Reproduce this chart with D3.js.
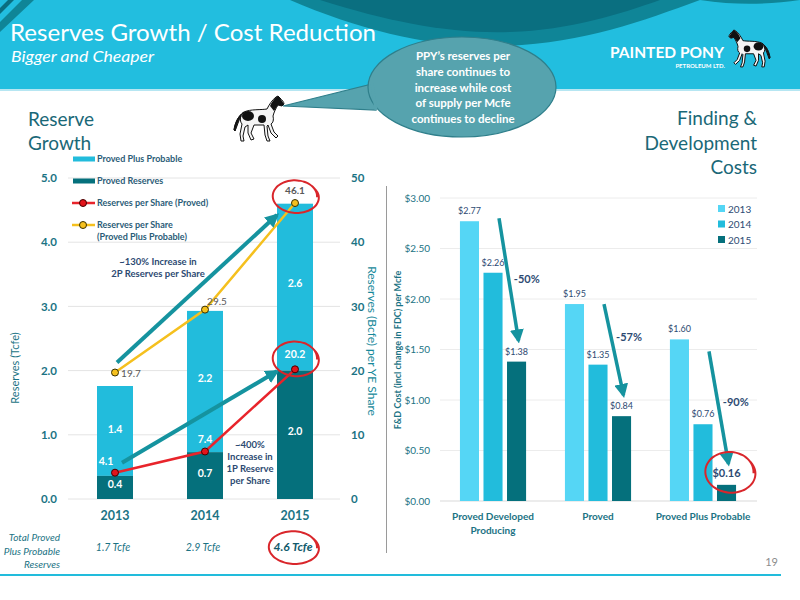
<!DOCTYPE html>
<html>
<head>
<meta charset="utf-8">
<script src="https://cdn.jsdelivr.net/npm/d3@7"></script>
<style>
  html, body { margin: 0; padding: 0; background: #fff; }
  svg { display: block; font-family: Lato, "Open Sans", sans-serif; }
</style>
</head>
<body>
<div id="chart"></div>
<script>
// ---- data ----
const years = ["2013", "2014", "2015"];
const provedRes = [0.36, 0.73, 2.0];          // Tcfe
const probableRes = [1.4, 2.2, 2.6];          // Tcfe on top of proved
const perShareProved = [4.1, 7.4, 20.2];      // Bcfe per YE share
const perShare2P = [19.7, 29.5, 46.1];
const totalLabels = ["1.7 Tcfe", "2.9 Tcfe", "4.6 Tcfe"];
const leftTicks = [0, 1, 2, 3, 4, 5];
const rightTicks = [0, 10, 20, 30, 40, 50];

const fdCategories = ["Proved Developed Producing", "Proved", "Proved Plus Probable"];
const fdYears = ["2013", "2014", "2015"];
const fdCost2013 = [2.77, 1.95, 1.60];
const fdCost2014 = [2.26, 1.35, 0.76];
const fdCost2015 = [1.38, 0.84, 0.16];
const fdChange = ["-50%", "-57%", "-90%"];
const fdTicks = [0, 0.5, 1, 1.5, 2, 2.5, 3];

const width = 800, height = 600;
const cyan = "#22bcdc", dark = "#05707c", light = "#55d6f5";
const teal = "#15939f", navy = "#2d4a72", axisCol = "#1b7384", red = "#d9262b";

const svg = d3.select("#chart").append("svg")
  .attr("width", width)
  .attr("height", height);

const defs = svg.append("defs");
defs.append("marker")
  .attr("id", "head")
  .attr("markerUnits", "userSpaceOnUse")
  .attr("viewBox", "0 0 10 10")
  .attr("refX", 8).attr("refY", 5)
  .attr("markerWidth", 14).attr("markerHeight", 14)
  .attr("orient", "auto")
  .append("path").attr("d", "M0,0 L10,5 L0,10 Z").attr("fill", teal);

// ---- header banner ----
svg.append("rect").attr("x", 0).attr("y", 0).attr("width", width).attr("height", 89).attr("fill", "#22bedf");
svg.append("path")
  .attr("d", "M290,0 C360,30 430,48 500,46 C580,44 640,22 700,0 Z")
  .attr("fill", "#0f8597");
svg.append("path")
  .attr("d", "M320,0 C390,22 450,34 510,32 C570,30 620,14 660,0 Z")
  .attr("fill", "#0a6f80");
svg.append("path")
  .attr("d", "M700,0 C740,6 770,4 800,0 Z")
  .attr("fill", "#0f8597");
svg.append("path").attr("d", "M0,22 L22,0 L34,0 L0,32 Z").attr("fill", "#0f8597");
svg.append("path").attr("d", "M0,8 L8,0 L14,0 L0,14 Z").attr("fill", "#0a6f80");
svg.append("rect").attr("x", 0).attr("y", 89).attr("width", width).attr("height", 2).attr("fill", "#b6e6f2");

svg.append("text").attr("x", 10).attr("y", 41)
  .attr("fill", "#fff").style("font-size", "24px")
  .attr("textLength", 366).attr("lengthAdjust", "spacingAndGlyphs")
  .text("Reserves Growth / Cost Reduction");
svg.append("text").attr("x", 11).attr("y", 62)
  .attr("fill", "#fff").style("font-size", "16px").style("font-style", "italic")
  .attr("textLength", 143).attr("lengthAdjust", "spacingAndGlyphs")
  .text("Bigger and Cheaper");

// logo
svg.append("text").attr("x", 610).attr("y", 58)
  .attr("fill", "#fff").style("font-size", "15px").style("font-weight", "bold")
  .attr("textLength", 114).attr("lengthAdjust", "spacingAndGlyphs")
  .text("PAINTED PONY");
svg.append("text").attr("x", 725).attr("y", 68).attr("text-anchor", "end")
  .attr("fill", "#fff").style("font-size", "6px").style("font-weight", "bold")
  .text("PETROLEUM LTD.");

// simple pinto pony, facing right in a 50x46 box
const horsePath = "M10,16 C16,13 28,14 33,13 C35,9 38,4 42,1 L44,0 L46,2 C48,4 50,6 50,8 L48,10 L44,9 " +
  "C42,12 40,16 39,20 C40,24 39,27 37,28 L40,36 L44,40 L42,42 L37,37 L34,29 L33,30 L34,40 L36,45 L33,45 L31,39 L30,29 " +
  "L20,29 L17,37 L20,43 L17,44 L14,37 L14,29 L11,31 L9,40 L10,45 L7,45 L6,38 L8,28 C6,26 6,22 7,20 " +
  "C5,24 3,30 1,35 L0,34 C1,27 4,20 10,16 Z";
function horse(tx, ty, s, flip) {
  const g = svg.append("g")
    .attr("transform", `translate(${tx},${ty}) scale(${flip ? -s : s},${s})`);
  g.append("path").attr("d", horsePath).attr("fill", "#f4f4f4").attr("stroke", "#111").attr("stroke-width", 1 / s);
  g.append("path").attr("d", "M36,10 C38,5 42,1 44,0 L46,2 L50,8 L48,10 L44,9 L40,15 Z").attr("fill", "#111");
  g.append("ellipse").attr("cx", 14).attr("cy", 20).attr("rx", 6).attr("ry", 5).attr("fill", "#111");
  g.append("ellipse").attr("cx", 28).attr("cy", 23).attr("rx", 4).attr("ry", 4).attr("fill", "#111");
  g.append("path").attr("d", "M10,16 C5,21 3,28 1,35 L0,34 C1,27 4,20 10,16 Z").attr("fill", "#111").attr("stroke", "#111");
}
horse(770, 30, 0.82, true);
horse(234, 96, 1.0, false);

// speech bubble
svg.append("path")
  .attr("d", "M283,106 L372,84 L376,110 Z")
  .attr("fill", "#56a3ae").attr("stroke", "#2f7f8b").attr("stroke-width", 1.2);
svg.append("ellipse").attr("cx", 462).attr("cy", 87).attr("rx", 94).attr("ry", 50)
  .attr("fill", "#56a3ae").attr("stroke", "#2f7f8b").attr("stroke-width", 1.2);
svg.append("path").attr("d", "M372,84 L376,110").attr("stroke", "#56a3ae").attr("stroke-width", 3);
const bubbleLines = ["PPY\u2019s reserves per", "share continues to", "increase while cost", "of supply per Mcfe", "continues to decline"];
svg.append("g").selectAll("text").data(bubbleLines).join("text")
  .attr("x", 463).attr("y", (d, i) => 60 + i * 15.8)
  .attr("text-anchor", "middle").attr("fill", "#fff")
  .style("font-size", "11.5px").style("font-weight", "bold")
  .text(d => d);

// section titles
svg.append("g").selectAll("text").data(["Reserve", "Growth"]).join("text")
  .attr("x", 28).attr("y", (d, i) => 126 + i * 24)
  .attr("fill", "#1a6877").style("font-size", "19px").text(d => d);
svg.append("g").selectAll("text").data(["Finding &", "Development", "Costs"]).join("text")
  .attr("x", 757).attr("y", (d, i) => 125 + i * 24.5).attr("text-anchor", "end")
  .attr("fill", "#1a6877").style("font-size", "19px").text(d => d);

// ---- left chart: reserves ----
const xL = d3.scaleBand().domain(years).range([70, 340]).paddingInner(0.6).paddingOuter(0.3);
const yL = d3.scaleLinear().domain([0, 5]).range([499, 178]);
const yR = d3.scaleLinear().domain([0, 50]).range([499, 178]);
const cx = i => xL(years[i]) + xL.bandwidth() / 2;

svg.append("g").selectAll("line").data(leftTicks).join("line")
  .attr("x1", 68).attr("x2", 340).attr("y1", d => yL(d)).attr("y2", d => yL(d))
  .attr("stroke", "#e4e4e4").attr("stroke-width", 1);

svg.append("g")
  .attr("transform", "translate(60,0)")
  .call(d3.axisLeft(yL).tickValues(leftTicks).tickFormat(d3.format(".1f")).tickSize(0))
  .call(g => g.select(".domain").remove())
  .call(g => g.selectAll("text").attr("fill", axisCol).style("font-size", "11.5px").style("font-weight", "bold").style("font-family", "Lato"));

svg.append("g")
  .attr("transform", "translate(348,0)")
  .call(d3.axisRight(yR).tickValues(rightTicks).tickSize(0))
  .call(g => g.select(".domain").remove())
  .call(g => g.selectAll("text").attr("fill", axisCol).style("font-size", "11.5px").style("font-weight", "bold").style("font-family", "Lato"));

svg.append("g")
  .attr("transform", `translate(0,${yL(0)})`)
  .call(d3.axisBottom(xL).tickSize(0).tickPadding(12))
  .call(g => g.select(".domain").remove())
  .call(g => g.selectAll("text").attr("fill", axisCol).style("font-size", "12.5px").style("font-weight", "bold").style("font-family", "Lato"));

svg.append("text").attr("transform", "translate(19,368) rotate(-90)")
  .attr("text-anchor", "middle").attr("fill", axisCol).style("font-size", "11px")
  .text("Reserves (Tcfe)");
svg.append("text").attr("transform", "translate(368,341) rotate(90)")
  .attr("text-anchor", "middle").attr("fill", "#16899a").style("font-size", "12px")
  .text("Reserves (Bcfe) per YE Share");

// stacked bars
svg.append("g").selectAll("rect").data(years).join("rect")
  .attr("x", d => xL(d)).attr("width", xL.bandwidth())
  .attr("y", (d, i) => yL(provedRes[i] + probableRes[i]))
  .attr("height", (d, i) => yL(provedRes[i]) - yL(provedRes[i] + probableRes[i]))
  .attr("fill", cyan);
svg.append("g").selectAll("rect").data(years).join("rect")
  .attr("x", d => xL(d)).attr("width", xL.bandwidth())
  .attr("y", (d, i) => yL(provedRes[i]))
  .attr("height", (d, i) => yL(0) - yL(provedRes[i]))
  .attr("fill", dark);

// bar labels
const provedLabelY = [488, 477, 435];
const probLabelY = [433, 382, 287];
svg.append("g").selectAll("text").data(provedRes).join("text")
  .attr("x", (d, i) => cx(i)).attr("y", (d, i) => provedLabelY[i])
  .attr("text-anchor", "middle").attr("fill", "#fff")
  .style("font-size", "10.5px").style("font-weight", "bold")
  .text(d => d.toFixed(1));
svg.append("g").selectAll("text").data(probableRes).join("text")
  .attr("x", (d, i) => cx(i)).attr("y", (d, i) => probLabelY[i])
  .attr("text-anchor", "middle").attr("fill", "#fff")
  .style("font-size", "10.5px").style("font-weight", "bold")
  .text(d => d.toFixed(1));

// per-share lines
const lineR = d3.line().x((d, i) => cx(i)).y(d => yR(d));
svg.append("path").datum(perShare2P).attr("d", lineR)
  .attr("fill", "none").attr("stroke", "#f5c01e").attr("stroke-width", 2.5);
svg.append("path").datum(perShareProved).attr("d", lineR)
  .attr("fill", "none").attr("stroke", "#e8242b").attr("stroke-width", 2.5);
svg.append("g").selectAll("circle").data(perShare2P).join("circle")
  .attr("cx", (d, i) => cx(i)).attr("cy", d => yR(d)).attr("r", 3.5)
  .attr("fill", "#f5c01e").attr("stroke", "#3a3000").attr("stroke-width", 1);
svg.append("g").selectAll("circle").data(perShareProved).join("circle")
  .attr("cx", (d, i) => cx(i)).attr("cy", d => yR(d)).attr("r", 3.5)
  .attr("fill", "#e3141b").attr("stroke", "#400").attr("stroke-width", 1);

// line labels
const p2Offsets = [[16, 4], [12, -5], [0, -9]];
svg.append("g").selectAll("text").data(perShare2P).join("text")
  .attr("x", (d, i) => cx(i) + p2Offsets[i][0]).attr("y", (d, i) => yR(d) + p2Offsets[i][1])
  .attr("text-anchor", "middle").attr("fill", "#595959")
  .style("font-size", "10px").style("font-weight", (d, i) => i === 2 ? "bold" : "normal")
  .text(d => d.toFixed(1));
const p1Offsets = [[-9, -8], [0, -8], [0, -11]];
svg.append("g").selectAll("text").data(perShareProved).join("text")
  .attr("x", (d, i) => cx(i) + p1Offsets[i][0]).attr("y", (d, i) => yR(d) + p1Offsets[i][1])
  .attr("text-anchor", "middle").attr("fill", "#fff")
  .style("font-size", "10.5px").style("font-weight", "bold")
  .text(d => d.toFixed(1));

// increase arrows
svg.append("line")
  .attr("x1", cx(0) + 2).attr("y1", yR(perShare2P[0]) - 10)
  .attr("x2", cx(2) - 18).attr("y2", yR(perShare2P[2]) + 12)
  .attr("stroke", teal).attr("stroke-width", 4).attr("marker-end", "url(#head)");
svg.append("line")
  .attr("x1", cx(0) + 7).attr("y1", yR(perShareProved[0]) - 10)
  .attr("x2", cx(2) - 18).attr("y2", yR(perShareProved[2]) + 2)
  .attr("stroke", teal).attr("stroke-width", 4).attr("marker-end", "url(#head)");

svg.append("g").selectAll("text").data(["~130% Increase in", "2P Reserves per Share"]).join("text")
  .attr("x", 158).attr("y", (d, i) => 265 + i * 12)
  .attr("text-anchor", "middle").attr("fill", navy)
  .style("font-size", "9.5px").style("font-weight", "bold").text(d => d);
svg.append("g").selectAll("text").data(["~400%", "Increase in", "1P Reserve", "per Share"]).join("text")
  .attr("x", 250).attr("y", (d, i) => 448 + i * 12)
  .attr("text-anchor", "middle").attr("fill", navy)
  .style("font-size", "9.5px").style("font-weight", "bold").text(d => d);

// legend
const legend = svg.append("g").style("font-size", "9px").style("font-weight", "bold");
legend.append("rect").attr("x", 73).attr("y", 156.5).attr("width", 22).attr("height", 5).attr("fill", cyan);
legend.append("rect").attr("x", 73).attr("y", 178.5).attr("width", 22).attr("height", 5).attr("fill", dark);
legend.append("line").attr("x1", 72).attr("x2", 95).attr("y1", 203).attr("y2", 203).attr("stroke", "#e8242b").attr("stroke-width", 2.5);
legend.append("circle").attr("cx", 83).attr("cy", 203).attr("r", 3.5).attr("fill", "#e3141b").attr("stroke", "#400");
legend.append("line").attr("x1", 72).attr("x2", 95).attr("y1", 225).attr("y2", 225).attr("stroke", "#f5c01e").attr("stroke-width", 2.5);
legend.append("circle").attr("cx", 83).attr("cy", 225).attr("r", 3.5).attr("fill", "#f5c01e").attr("stroke", "#3a3000");
const legendText = [["Proved Plus Probable", 162], ["Proved Reserves", 184], ["Reserves per Share (Proved)", 206], ["Reserves per Share", 228], ["(Proved Plus Probable)", 240]];
legend.selectAll("text").data(legendText).join("text")
  .attr("x", 97).attr("y", d => d[1]).attr("fill", "#2b5c77").text(d => d[0]);

// totals row
svg.append("g").selectAll("text").data(["Total Proved", "Plus Probable", "Reserves"]).join("text")
  .attr("x", 60).attr("y", (d, i) => 541 + i * 13.5).attr("text-anchor", "end")
  .attr("fill", axisCol).style("font-size", "10px").style("font-style", "italic").text(d => d);
svg.append("g").selectAll("text").data(totalLabels).join("text")
  .attr("x", (d, i) => cx(i) - 2).attr("y", 551).attr("text-anchor", "middle")
  .attr("fill", (d, i) => i === 2 ? "#125a6c" : axisCol)
  .style("font-size", (d, i) => i === 2 ? "12px" : "10.5px")
  .style("font-style", "italic").style("font-weight", (d, i) => i === 2 ? "bold" : "normal")
  .text(d => d);

// ---- right chart: F&D costs ----
const x0 = d3.scaleBand().domain(fdCategories).range([440, 756]).paddingInner(0.37).paddingOuter(0.19);
const x1 = d3.scaleBand().domain(fdYears).range([0, x0.bandwidth()]).paddingInner(0.19);
const yF = d3.scaleLinear().domain([0, 3]).range([501, 198]);
const fdSeries = [fdCost2013, fdCost2014, fdCost2015];
const fdColors = [light, cyan, dark];

svg.append("g").selectAll("line").data(fdTicks).join("line")
  .attr("x1", 440).attr("x2", 757).attr("y1", d => yF(d)).attr("y2", d => yF(d))
  .attr("stroke", d => d === 0 ? "#d9d9d9" : "#ececec").attr("stroke-width", 1);

svg.append("g")
  .attr("transform", "translate(433,0)")
  .call(d3.axisLeft(yF).tickValues(fdTicks).tickFormat(d => "$" + d.toFixed(2)).tickSize(0))
  .call(g => g.select(".domain").remove())
  .call(g => g.selectAll("text").attr("fill", axisCol).style("font-size", "10px").style("font-family", "Lato"));

svg.append("text").attr("transform", "translate(401,350) rotate(-90)")
  .attr("text-anchor", "middle").attr("fill", axisCol).style("font-size", "9px").style("font-weight", "bold")
  .text("F&D Cost (incl change in FDC) per Mcfe");

svg.append("line").attr("x1", 386.5).attr("x2", 386.5).attr("y1", 186).attr("y2", 553)
  .attr("stroke", "#9a9a9a").attr("stroke-width", 1);

const groups = svg.append("g").selectAll("g").data(fdCategories).join("g")
  .attr("transform", d => `translate(${x0(d)},0)`);
groups.selectAll("rect").data((d, ci) => fdYears.map((y, yi) => ({ y, yi, v: fdSeries[yi][ci] }))).join("rect")
  .attr("x", d => x1(d.y)).attr("width", x1.bandwidth())
  .attr("y", d => yF(d.v)).attr("height", d => yF(0) - yF(d.v))
  .attr("fill", d => fdColors[d.yi]);
groups.selectAll("text").data((d, ci) => fdYears.map((y, yi) => ({ y, yi, v: fdSeries[yi][ci], ci }))).join("text")
  .attr("x", d => x1(d.y) + x1.bandwidth() / 2)
  .attr("y", d => yF(d.v) - (d.ci === 2 && d.yi === 2 ? 8 : 7))
  .attr("text-anchor", "middle").attr("fill", navy)
  .style("font-size", d => d.ci === 2 && d.yi === 2 ? "11px" : "9px")
  .style("font-weight", d => d.ci === 2 && d.yi === 2 ? "bold" : "normal")
  .text(d => "$" + d.v.toFixed(2));

// category labels
const catLines = [["Proved Developed", "Producing"], ["Proved"], ["Proved Plus Probable"]];
fdCategories.forEach((c, i) => {
  svg.append("g").selectAll("text").data(catLines[i]).join("text")
    .attr("x", x0(c) + x0.bandwidth() / 2).attr("y", (d, k) => 520 + k * 14)
    .attr("text-anchor", "middle").attr("fill", axisCol)
    .style("font-size", "10px").style("font-weight", "bold").text(d => d);
});

// decline arrows
const bx = (ci, yi) => x0(fdCategories[ci]) + x1(fdYears[yi]) + x1.bandwidth() / 2;
const arrowStartY = [yF(fdCost2013[0]) - 3, yF(fdCost2013[1]), yF(fdCost2013[2]) + 12];
const labelT = [0.5, 0.36, 0.45];
fdCategories.forEach((c, i) => {
  const sx = bx(i, 1) + 6, sy = arrowStartY[i];
  const ex = bx(i, 2) + 2, ey = yF(fdCost2015[i]) - 21;
  svg.append("line").attr("x1", sx).attr("y1", sy).attr("x2", ex).attr("y2", ey)
    .attr("stroke", teal).attr("stroke-width", 3.5).attr("marker-end", "url(#head)");
  const t = labelT[i];
  svg.append("text").attr("x", sx + (ex - sx) * t + 18).attr("y", sy + (ey - sy) * t + 4)
    .attr("text-anchor", "middle").attr("fill", navy)
    .style("font-size", "11px").style("font-weight", "bold").text(fdChange[i]);
});

// right legend
const legR = svg.append("g").selectAll("g").data(fdYears).join("g")
  .attr("transform", (d, i) => `translate(718,${205 + i * 15.5})`);
legR.append("rect").attr("width", 7).attr("height", 7).attr("fill", (d, i) => fdColors[i]);
legR.append("text").attr("x", 10).attr("y", 7.5).attr("fill", navy).style("font-size", "10px").text(d => d);

// ---- hand-drawn red circles ----
function scribble(cxp, cyp, rx, ry) {
  const pts = d3.range(0, 2 * Math.PI * 1.12, 0.15).map(a => {
    const k = 1 + 0.05 * Math.sin(a * 1.5);
    return [cxp + rx * k * Math.cos(a - 0.6), cyp + ry * k * Math.sin(a - 0.6)];
  });
  svg.append("path").attr("d", d3.line().curve(d3.curveBasis)(pts))
    .attr("fill", "none").attr("stroke", red).attr("stroke-width", 2);
}
scribble(cx(2), yR(perShare2P[2]) - 6, 23, 16);
scribble(cx(2), yR(perShareProved[2]) - 10, 23, 17);
scribble(cx(2) - 2, 548, 25, 16);
scribble(bx(2, 2) + 3, yF(fdCost2015[2]) - 12, 25, 20);

// ---- footer ----
svg.append("line").attr("x1", 0).attr("x2", 781).attr("y1", 575).attr("y2", 575)
  .attr("stroke", cyan).attr("stroke-width", 2);
svg.append("text").attr("x", 778).attr("y", 566).attr("text-anchor", "end")
  .attr("fill", "#8c8c8c").style("font-size", "11px").text("19");
</script>
</body>
</html>
